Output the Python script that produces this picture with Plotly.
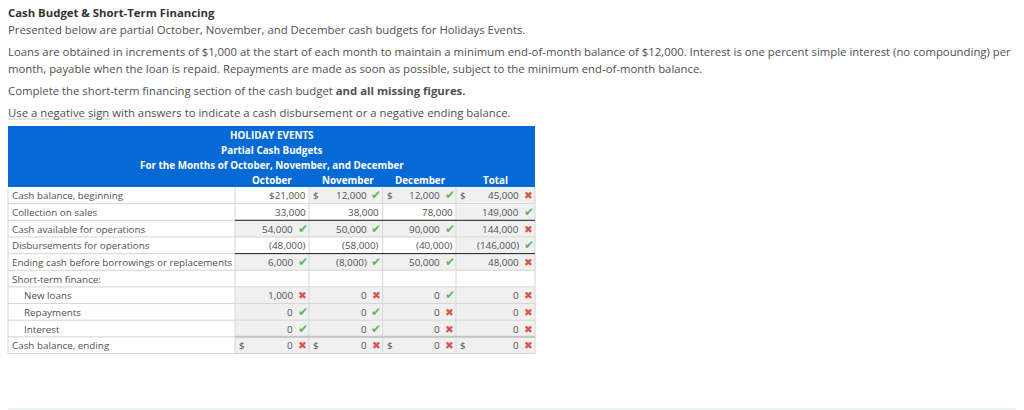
import plotly.graph_objects as go

row_labels = ["Cash balance, beginning", "Collection on sales", "Cash available for operations",
              "Disbursements for operations", "Ending cash before borrowings or replacements",
              "Short-term finance:", "New loans", "Repayments", "Interest", "Cash balance, ending"]
indent = [0, 0, 0, 0, 0, 0, 1, 1, 1, 0]
months = ["October", "November", "December", "Total"]

october = ["$21,000", "33,000", "54,000", "(48,000)", "6,000", "", "1,000", "0", "0", "0"]
november = ["12,000", "38,000", "50,000", "(58,000)", "(8,000)", "", "0", "0", "0", "0"]
december = ["12,000", "78,000", "90,000", "(40,000)", "50,000", "", "0", "0", "0", "0"]
total = ["45,000", "149,000", "144,000", "(146,000)", "48,000", "", "0", "0", "0", "0"]
columns = [october, november, december, total]

# y = right, n = wrong, "" = no mark
october_marks = ["", "", "y", "", "y", "", "n", "y", "y", "n"]
november_marks = ["y", "", "y", "", "y", "", "n", "y", "y", "n"]
december_marks = ["y", "", "y", "", "y", "", "y", "n", "n", "n"]
total_marks = ["n", "y", "n", "y", "n", "", "n", "n", "n", "n"]
marks = [october_marks, november_marks, december_marks, total_marks]

# which rows of each column carry a dollar sign
dollar_rows = [[9], [0, 9], [0, 9], [0, 9]]

title_lines = ["HOLIDAY EVENTS", "Partial Cash Budgets", "For the Months of October, November, and December"]

# layout of the page, in pixels
col_edges = [235, 309, 382.7, 456, 535]
month_centers = [272, 348, 420, 495]
table_left = 8
header_top, header_bottom = 126, 187
row_h = 16.65
BLUE = "#0569d6"
TEXT = "#505050"
GREEN = "#5cb85c"
RED = "#d9534f"
FONT = "Open Sans"
SIZE = 9.85
PROSE = 11.35

fig = go.Figure()
shapes = []
notes = []


def put(x, y, text, anchor="left", color=TEXT, size=SIZE, bold=False, family=FONT):
    notes.append(dict(x=x, y=y, text="<b>%s</b>" % text if bold else text, showarrow=False,
                      xanchor=anchor, yanchor="middle", xref="x", yref="y",
                      borderpad=0, borderwidth=0,
                      font=dict(family=family, size=size, color=color)))


def line(x0, y0, x1, y1, color, width=1):
    shapes.append(dict(type="line", x0=x0, y0=y0, x1=x1, y1=y1, xref="x", yref="y",
                       line=dict(color=color, width=width)))


def rect(x0, y0, x1, y1, color):
    shapes.append(dict(type="rect", x0=x0, y0=y0, x1=x1, y1=y1, xref="x", yref="y",
                       fillcolor=color, line=dict(width=0), layer="below"))


# question text
put(8, 12, "Cash Budget &amp; Short-Term Financing", bold=True, size=PROSE, color="#333333")
put(8, 29, "Presented below are partial October, November, and December cash budgets for Holidays Events.", size=PROSE)
put(8, 51, "Loans are obtained in increments of $1,000 at the start of each month to maintain a minimum end-of-month balance of $12,000. Interest is one percent simple interest (no compounding) per", size=PROSE)
put(8, 68, "month, payable when the loan is repaid. Repayments are made as soon as possible, subject to the minimum end-of-month balance.", size=PROSE)
put(8, 90, "Complete the short-term financing section of the cash budget <b>and all missing figures.</b>", size=PROSE)
put(8, 112.5, "Use a negative sign with answers to indicate a cash disbursement or a negative ending balance.", size=PROSE)
line(8, 119, 110, 119, "#c8c8c8")

# header
rect(table_left, header_top, col_edges[-1], header_bottom, BLUE)
for i, t in enumerate(title_lines):
    put(271.5, 134.5 + i * 15, t, anchor="center", color="white", bold=True)
for m, c in zip(months, month_centers):
    put(c, 179.5, m, anchor="center", color="white", bold=True)

# cells
for r in range(len(row_labels)):
    y0 = header_bottom + r * row_h
    y1 = y0 + row_h
    yc = (y0 + y1) / 2
    put(table_left + 4 + 12 * indent[r], yc, row_labels[r])
    line(table_left, y1, col_edges[-1], y1, "#d4d4d4")
    for c in range(4):
        left, right = col_edges[c], col_edges[c + 1]
        if marks[c][r] != "":
            rect(left + 0.5, y0 + 0.5, right, y1, "#f0f0f0")
        value = columns[c][r]
        if value == "":
            continue
        has_mark = marks[c][r] != ""
        put(right - (16 if has_mark else 3.5), yc, value, anchor="right")
        if has_mark:
            if marks[c][r] == "y":
                put(right - 6.5, yc, "\u2714", anchor="center", color=GREEN, size=12, family="DejaVu Sans")
            else:
                put(right - 6.5, yc, "\u2716", anchor="center", color=RED, size=10.5, family="DejaVu Sans")
        if r in dollar_rows[c]:
            put(left + 4, yc, "$")

# grid lines and totals rules
for x in col_edges:
    line(x, header_bottom, x, header_bottom + 10 * row_h, "#d4d4d4")
line(table_left, header_bottom, table_left, header_bottom + 10 * row_h, "#d4d4d4")
line(col_edges[0], header_bottom + 2 * row_h, col_edges[-1], header_bottom + 2 * row_h, "#222222")
line(col_edges[0], header_bottom + 4 * row_h, col_edges[-1], header_bottom + 4 * row_h, "#222222")
line(col_edges[0], header_bottom + 9 * row_h, col_edges[-1], header_bottom + 9 * row_h, "#c4c4c4", 2)

# rule at the bottom of the page
line(8, 409, 1016, 409, "#d6e6e8")

fig.update_layout(width=1024, height=410, margin=dict(l=0, r=0, t=0, b=0),
                  paper_bgcolor="white", plot_bgcolor="white", showlegend=False,
                  shapes=shapes, annotations=notes,
                  xaxis=dict(range=[0, 1024], visible=False),
                  yaxis=dict(range=[410, 0], visible=False))
# the page has a default body margin that would push everything 8px in
fig.write_html("out.html", config=dict(displayModeBar=False),
               post_script="document.body.style.margin='0';")
